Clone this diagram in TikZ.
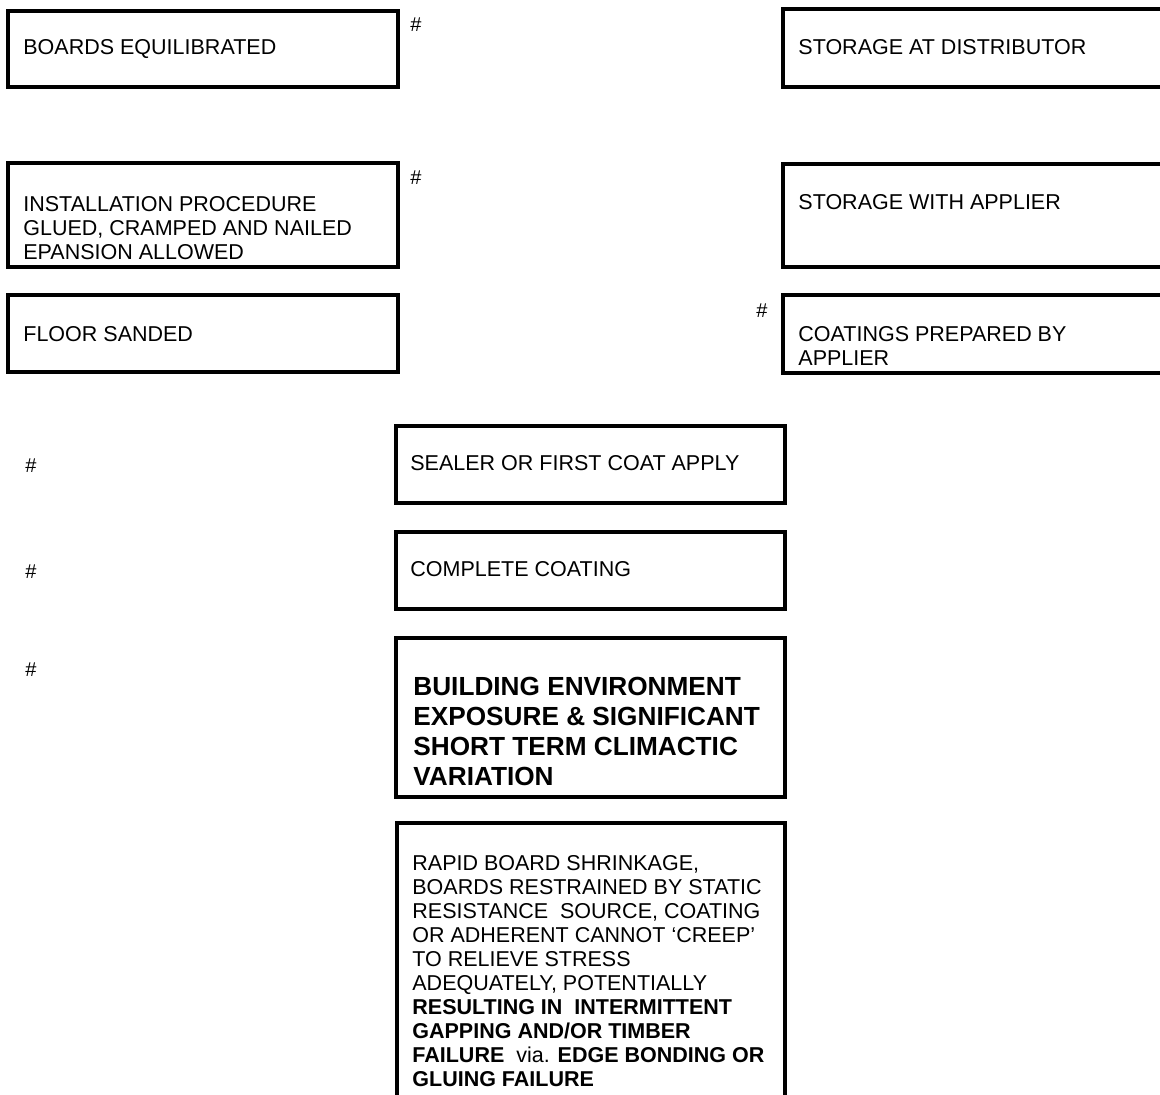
\documentclass[tikz,border=0pt]{standalone}
\usepackage{fontspec}
\setmainfont{Liberation Sans}
\newcommand{\boxlines}[1]{\begin{tabular}[t]{@{}l@{}}#1\end{tabular}}

\begin{document}
\begin{tikzpicture}[
  x=0.5pt,
  y=-0.5pt,
  frame/.style={draw=black,line width=1.75pt},
  boxtext/.style={anchor=base west,inner sep=0pt,
    font=\fontsize{10.75}{12}\selectfont},
  bigtext/.style={anchor=base west,inner sep=0pt,
    font=\fontsize{13.1}{15}\selectfont\bfseries},
  hashmark/.style={inner sep=0pt,font=\fontsize{10}{11}\selectfont}
]
\useasboundingbox (0,0) rectangle (1160,1095);
\clip (0,0) rectangle (1160,1095);

% Left column: board preparation and laying.
\draw[frame] (8,11) rectangle (398,87);
\node[boxtext] (equil) at (23,55) {BOARDS EQUILIBRATED};
\draw[frame] (8,163) rectangle (398,267);
\node[boxtext] (install) at (23,212)
  {\boxlines{INSTALLATION PROCEDURE\\GLUED, CRAMPED AND NAILED\\EPANSION ALLOWED}};
\draw[frame] (8,295) rectangle (398,372);
\node[boxtext] (sanded) at (23,342) {FLOOR SANDED};

% Right column runs off the page edge.
\draw[frame] (783,9) rectangle (1175,87);
\node[boxtext] (distrib) at (798,55) {STORAGE AT DISTRIBUTOR};
\draw[frame] (783,164) rectangle (1175,267);
\node[boxtext] (applier) at (798,210) {STORAGE WITH APPLIER};
\draw[frame] (783,295) rectangle (1175,373);
\node[boxtext] (prepared) at (798,342) {\boxlines{COATINGS PREPARED BY\\APPLIER}};

% Centre column: coating and what follows.
\draw[frame] (396,426) rectangle (785,503);
\node[boxtext] (sealer) at (410,471) {SEALER OR FIRST COAT APPLY};
\draw[frame] (396,532) rectangle (785,609);
\node[boxtext] (complete) at (410,576) {COMPLETE COATING};
\draw[frame] (396,638) rectangle (785,797);
\node[bigtext] (exposure) at (413,695)
  {\boxlines{BUILDING ENVIRONMENT\\EXPOSURE \& SIGNIFICANT\\SHORT TERM CLIMACTIC\\VARIATION}};
\draw[frame] (397,1110) -- (397,823) -- (785,823) -- (785,1110);
\node[boxtext,font=\fontsize{10.75}{12.05}\selectfont] (shrink) at (412,870)
  {\boxlines{RAPID BOARD SHRINKAGE,\\
   BOARDS RESTRAINED BY STATIC\\
   RESISTANCE\ \ SOURCE, COATING\\
   OR ADHERENT CANNOT ‘CREEP’\\
   TO RELIEVE STRESS\\
   ADEQUATELY, POTENTIALLY\\
   \textbf{RESULTING IN\ \ INTERMITTENT}\\
   \textbf{GAPPING AND/OR TIMBER}\\
   \textbf{FAILURE}\ \ via. \textbf{EDGE BONDING OR}\\
   \textbf{GLUING FAILURE}}};

% Stray markers.
\node[hashmark] (h1) at (416,25) {\#};
\node[hashmark] (h2) at (416,178) {\#};
\node[hashmark] (h3) at (762,311) {\#};
\node[hashmark] (h4) at (31,466) {\#};
\node[hashmark] (h5) at (31,572) {\#};
\node[hashmark] (h6) at (31,670) {\#};
\end{tikzpicture}
\end{document}
